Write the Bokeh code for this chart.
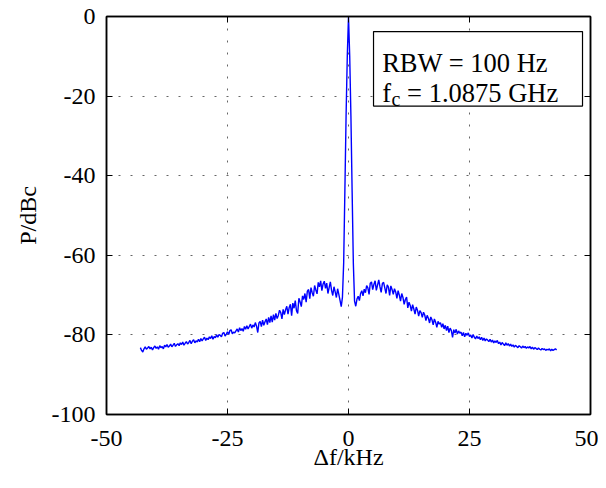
import numpy as np
from bokeh.plotting import figure
from bokeh.models import FixedTicker, LinearAxis, BoxAnnotation, Label, Range1d
from bokeh.embed import file_html
from bokeh.resources import INLINE

# ---- data ----
x_ticks = [-50, -25, 0, 25, 50]
y_ticks = [-100, -80, -60, -40, -20, 0]
x_tick_labels = {-50: "-50", -25: "-25", 0: "0", 25: "25", 50: "50"}
y_tick_labels = {-100: "-100", -80: "-80", -60: "-60", -40: "-40", -20: "-20", 0: "0"}

# lower sideband, bins every 0.25 kHz starting at -43 kHz
left_start = -43.0
bin_khz = 0.25
left_p = [
    -83.2, -83.9, -84.3, -83.5, -83.0, -83.6, -83.3, -82.9,
    -83.5, -83.1, -83.8, -83.2, -82.8, -83.4, -83.0, -83.6,
    -82.7, -83.2, -82.9, -83.5, -82.6, -83.0, -82.4, -83.1,
    -82.8, -82.3, -83.0, -82.6, -82.1, -82.9, -82.5, -82.2,
    -82.7, -82.0, -82.4, -81.8, -82.6, -82.1, -81.7, -82.3,
    -81.9, -81.4, -82.2, -81.6, -81.2, -82.0, -81.5, -81.8,
    -81.1, -81.7, -80.9, -81.5, -81.0, -80.6, -81.4, -80.8,
    -81.2, -80.5, -80.9, -80.2, -81.1, -80.4, -80.7, -80.0,
    -80.6, -79.9, -80.1, -80.5, -79.6, -79.4, -80.3, -79.8,
    -79.2, -79.9, -78.9, -78.7, -79.7, -79.3, -79.5, -79.0,
    -78.5, -79.3, -78.2, -78.9, -78.4, -79.1, -77.9, -78.6,
    -77.7, -78.5, -77.9, -77.3, -78.3, -77.5, -78.0, -76.9,
    -77.8, -79.4, -77.0, -76.6, -77.9, -76.3, -77.6, -76.7,
    -76.0, -77.4, -75.6, -76.9, -75.2, -76.8, -74.9, -76.3,
    -74.6, -75.9, -75.1, -73.8, -74.4, -76.0, -73.6, -74.9,
    -73.7, -72.8, -74.8, -73.1, -72.3, -75.2, -72.0, -73.3,
    -71.4, -73.9, -74.6, -70.8, -71.7, -72.9, -70.2, -71.1,
    -69.6, -71.8, -69.0, -68.6, -70.9, -68.1, -69.4, -70.3,
    -67.6, -68.7, -69.7, -66.8, -67.9, -66.4, -68.9, -67.2,
    -66.5, -68.3, -67.0, -69.6, -68.1, -66.7, -68.8, -70.1,
    -67.9, -69.2, -70.6, -68.4, -69.8, -71.3, -72.9,
]
# carrier
peak_f = [-1.25, -1.0, -0.75, -0.5, -0.25, 0.0, 0.25, 0.5, 0.75, 1.0, 1.25]
peak_p = [-70.5, -62.0, -44.0, -25.0, -10.0, 0.0, -10.0, -25.0, -44.0, -62.0, -71.5]
# upper sideband, bins every 0.25 kHz starting at +1.5 kHz
right_start = 1.5
right_p = [
    -72.8, -71.0, -70.3, -71.4, -69.6, -68.9, -70.2,
    -68.5, -69.4, -67.6, -68.2, -69.8, -67.0, -66.7, -68.6,
    -67.3, -66.4, -68.8, -67.5, -66.2, -67.9, -69.3, -67.1,
    -66.8, -68.2, -69.6, -67.4, -68.0, -70.1, -67.7, -68.6,
    -69.8, -68.4, -69.2, -70.8, -68.9, -70.0, -71.5, -69.6,
    -70.6, -72.3, -71.1, -70.5, -73.2, -71.8, -72.6, -74.0,
    -72.4, -73.5, -74.8, -73.0, -73.8, -75.3, -73.9, -74.4,
    -75.6, -74.3, -75.0, -76.4, -75.1, -75.8, -77.0, -75.5,
    -76.2, -77.5, -76.0, -76.8, -78.1, -76.6, -77.3, -76.9,
    -78.1, -77.2, -78.5, -77.6, -78.9, -77.8, -79.4, -78.3,
    -78.9, -80.6, -78.7, -79.5, -78.6, -79.8, -79.0, -79.6,
    -79.3, -80.2, -79.4, -80.5, -79.6, -80.1, -79.5, -80.4,
    -80.0, -80.8, -79.9, -80.6, -81.0, -80.3, -80.9, -80.5,
    -81.2, -80.6, -81.4, -80.8, -81.5, -81.0, -81.3, -81.7,
    -81.1, -81.8, -81.3, -82.0, -81.5, -81.9, -81.4, -82.2,
    -81.8, -82.5, -81.9, -82.3, -82.7, -82.0, -82.6, -82.2,
    -82.8, -82.3, -82.9, -82.5, -83.1, -82.6, -82.9, -83.2,
    -82.7, -83.0, -83.3, -82.8, -83.2, -82.9, -83.4, -83.0,
    -83.3, -82.9, -83.5, -83.1, -83.6, -83.2, -83.4, -83.7,
    -83.3, -83.6, -83.8, -83.4, -83.7, -83.5, -83.9, -83.6,
    -83.8, -83.5, -84.0, -83.6, -83.9, -83.7, -83.5, -83.8,
]

left_f = left_start + bin_khz * np.arange(len(left_p))
right_f = right_start + bin_khz * np.arange(len(right_p))
f_all = np.concatenate([left_f, peak_f, right_f])
p_all = np.concatenate([left_p, peak_p, right_p])

FONT = "Liberation Serif"

p = figure(width=598, height=472,
           x_range=Range1d(-50, 50), y_range=Range1d(-100, 0),
           output_backend="svg", toolbar_location=None,
           min_border_left=106, min_border_right=8,
           min_border_top=16, min_border_bottom=56,
           background_fill_color="white", border_fill_color="white")

p.line(f_all, p_all, line_color="#0000ff", line_width=1.4)

p.outline_line_color = "black"
p.outline_line_width = 1.5

def style_axis(ax, ticks, labels=None):
    ax.ticker = FixedTicker(ticks=ticks)
    ax.major_tick_in = 6
    ax.major_tick_out = 0
    ax.minor_tick_line_color = None
    ax.axis_line_color = "black"
    ax.axis_line_width = 1.5
    ax.major_tick_line_color = "black"
    ax.major_tick_line_width = 1
    ax.major_label_text_font = FONT
    ax.major_label_text_color = "black"
    ax.axis_label_text_font = FONT
    ax.axis_label_text_font_size = "24px"
    ax.axis_label_text_font_style = "normal"
    ax.axis_label_text_color = "black"
    if labels is None:
        ax.major_label_overrides = {t: "" for t in ticks}
        ax.major_label_text_font_size = "1px"
        ax.major_label_standoff = 0
        ax.axis_label_standoff = 0
    else:
        ax.major_label_overrides = labels
        ax.major_label_text_font_size = "24px"

style_axis(p.xaxis[0], x_ticks, x_tick_labels)
style_axis(p.yaxis[0], y_ticks, y_tick_labels)
p.xaxis[0].axis_label = "Δf/kHz"
p.yaxis[0].axis_label = "P/dBc"
p.xaxis[0].major_label_standoff = 16
p.xaxis[0].axis_label_standoff = -5
p.yaxis[0].major_label_standoff = 11
p.yaxis[0].axis_label_standoff = 8

top_ax = LinearAxis()
right_ax = LinearAxis()
style_axis(top_ax, x_ticks)
style_axis(right_ax, y_ticks)
p.add_layout(top_ax, "above")
p.add_layout(right_ax, "right")

p.xgrid[0].ticker = FixedTicker(ticks=x_ticks)
p.ygrid[0].ticker = FixedTicker(ticks=y_ticks)
for g in (p.xgrid[0], p.ygrid[0]):
    g.grid_line_color = "black"
    g.grid_line_alpha = 0.6
    g.grid_line_dash = "2 10"
    g.grid_line_width = 1

# annotation box
box = BoxAnnotation(left=5.17, right=48.35, top=-3.8, bottom=-22.5,
                    fill_color="white", fill_alpha=1.0,
                    line_color="black", line_alpha=1.0, line_width=1.2)
p.add_layout(box)

lbl_kw = dict(text_font=FONT, text_font_size="26.5px", text_color="black",
              text_baseline="alphabetic", text_align="left")
p.add_layout(Label(x=6.96, y=-11.57, text="RBW = 100 Hz", **lbl_kw))
p.add_layout(Label(x=6.96, y=-19.16, text="f", **lbl_kw))
p.add_layout(Label(x=8.9, y=-20.8, text="c", text_font=FONT, text_font_size="20px",
                   text_color="black", text_baseline="alphabetic", text_align="left"))
p.add_layout(Label(x=12.1, y=-19.16, text="= 1.0875 GHz", **lbl_kw))

open("out.html", "w").write(file_html(p, INLINE))
